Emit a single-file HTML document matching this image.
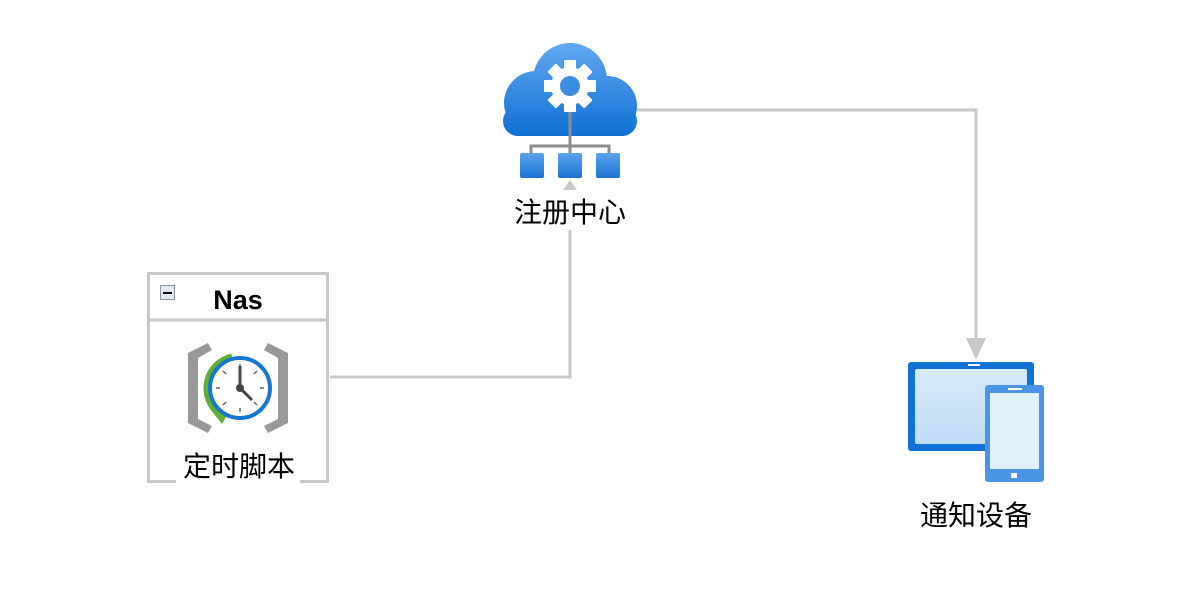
<!DOCTYPE html>
<html><head><meta charset="utf-8"><style>
html,body{margin:0;padding:0;background:#fff;}
svg{display:block;}
text{font-family:"Liberation Sans","Noto Sans CJK SC",sans-serif;}
</style></head><body>
<svg width="1186" height="596" viewBox="0 0 1186 596" xmlns="http://www.w3.org/2000/svg">
<defs>
<linearGradient id="cg" gradientUnits="userSpaceOnUse" x1="0" y1="43" x2="0" y2="136"><stop offset="0" stop-color="#62a8f0"/><stop offset="1" stop-color="#0f70d5"/></linearGradient>
<linearGradient id="bg" x1="0" y1="0" x2="0" y2="1"><stop offset="0" stop-color="#5ba3ee"/><stop offset="1" stop-color="#1a73d4"/></linearGradient>
<linearGradient id="sg" x1="0" y1="0" x2="0" y2="1"><stop offset="0" stop-color="#d7ebfa"/><stop offset="1" stop-color="#bfdcf5"/></linearGradient>
</defs>
<polyline points="637,110 976,110 976,345" fill="none" stroke="#c8c8c8" stroke-width="3"/>
<polygon points="966,338 986,338 976,360" fill="#c8c8c8"/>
<polyline points="330,377 570,377 570,230" fill="none" stroke="#c8c8c8" stroke-width="3"/>
<polygon points="563,190 577,190 570,180" fill="#c8c8c8"/>
<g fill="url(#cg)">
<circle cx="570" cy="80" r="37"/>
<circle cx="536" cy="103" r="32"/>
<circle cx="607" cy="106" r="30"/>
<rect x="536" y="90" width="70" height="46"/>
<rect x="503" y="106" width="134" height="30" rx="15"/>
</g>
<g transform="translate(570,86)" fill="#fff">
<circle r="19"/>
<g>
<rect x="-6" y="-26" width="12" height="12" rx="1"/>
<rect x="-6" y="-26" width="12" height="12" rx="1" transform="rotate(45)"/>
<rect x="-6" y="-26" width="12" height="12" rx="1" transform="rotate(90)"/>
<rect x="-6" y="-26" width="12" height="12" rx="1" transform="rotate(135)"/>
<rect x="-6" y="-26" width="12" height="12" rx="1" transform="rotate(180)"/>
<rect x="-6" y="-26" width="12" height="12" rx="1" transform="rotate(225)"/>
<rect x="-6" y="-26" width="12" height="12" rx="1" transform="rotate(270)"/>
<rect x="-6" y="-26" width="12" height="12" rx="1" transform="rotate(315)"/>
</g>
<circle r="10" fill="#3b8de3"/>
</g>
<g stroke="#8c8c8c" stroke-width="3" fill="none">
<line x1="570" y1="112" x2="570" y2="155"/>
<polyline points="531,155 531,146 609,146 609,155"/>
</g>
<rect x="520" y="153" width="24" height="25" rx="2" fill="url(#bg)"/>
<rect x="558" y="153" width="24" height="25" rx="2" fill="url(#bg)"/>
<rect x="596" y="153" width="24" height="25" rx="2" fill="url(#bg)"/>
<text x="570" y="222" font-size="28" text-anchor="middle" fill="#000">注册中心</text>
<rect x="148.5" y="273.5" width="179" height="208" fill="#fff" stroke="#c8c8c8" stroke-width="3"/>
<line x1="148" y1="320" x2="328" y2="320" stroke="#c8c8c8" stroke-width="3"/>
<rect x="160.5" y="285.5" width="14" height="14" fill="#e4e8ee" stroke="#8892a0"/>
<rect x="163" y="292" width="9" height="2" fill="#000"/>
<text x="238" y="309" font-size="27" font-weight="bold" text-anchor="middle" fill="#000">Nas</text>
<polygon points="188,353 208,343 212,350 198,358 198,419 212,426 208,433 188,423" fill="#999"/>
<polygon points="288,353 268,343 264,350 278,358 278,419 264,426 268,433 288,423" fill="#999"/>
<path d="M232,357 A32,32 0 0 0 220,414" fill="none" stroke="#5fb030" stroke-width="7"/>
<polygon points="211,410 231,408 222,424" fill="#5fb030"/>
<circle cx="240" cy="388" r="30" fill="#fff" stroke="#1677d2" stroke-width="4"/>
<g stroke="#666" stroke-width="1.5">
<line x1="240" y1="364" x2="240" y2="368"/><line x1="240" y1="408" x2="240" y2="412"/>
<line x1="216" y1="388" x2="220" y2="388"/><line x1="260" y1="388" x2="264" y2="388"/>
<line x1="223" y1="371" x2="226" y2="374"/><line x1="254" y1="374" x2="257" y2="371"/>
<line x1="223" y1="405" x2="226" y2="402"/><line x1="254" y1="402" x2="257" y2="405"/>
</g>
<line x1="240" y1="388" x2="240" y2="366" stroke="#444" stroke-width="3"/>
<line x1="240" y1="388" x2="252" y2="400" stroke="#444" stroke-width="3"/>
<circle cx="240" cy="388" r="4" fill="#444"/>
<rect x="176" y="448" width="124" height="36" fill="#fff"/>
<text x="239" y="476" font-size="28" text-anchor="middle" fill="#000">定时脚本</text>
<rect x="908" y="362" width="126" height="89" rx="3" fill="#0f72d6"/>
<rect x="915" y="369" width="112" height="75" rx="2" fill="url(#sg)"/>
<rect x="968" y="364" width="12" height="2" fill="#fff"/>
<rect x="985" y="385" width="59" height="97" rx="3" fill="#4a95e6"/>
<rect x="990" y="393" width="49" height="76" fill="#e0f1fb"/>
<rect x="1008" y="388" width="14" height="2" fill="#fff"/>
<rect x="1011" y="473" width="6" height="5" fill="#fff"/>
<text x="976" y="525" font-size="28" text-anchor="middle" fill="#000">通知设备</text>
</svg>
</body></html>
